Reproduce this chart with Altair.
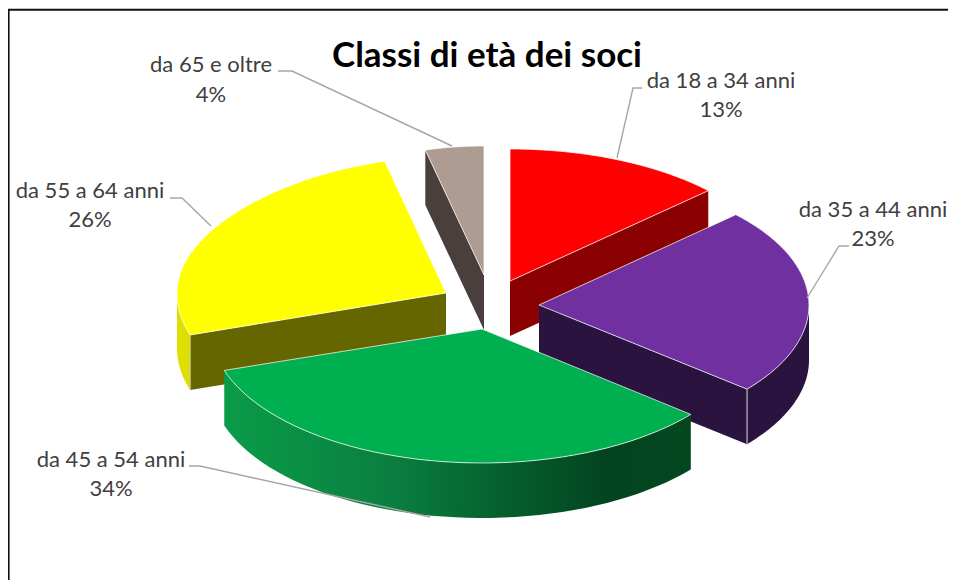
import math
import altair as alt

# ---- data ----
TITLE = "Classi di età dei soci"
categories = ["da 18 a 34 anni", "da 35 a 44 anni", "da 45 a 54 anni", "da 55 a 64 anni", "da 65 e oltre"]
shares = [13, 23, 34, 26, 4]

# ---- pie construction (each slice: exploded apex, ellipse radii, back taper) ----
APEX = [(510, 281), (539, 305), (482, 329), (446, 293), (484, 275)]
RADII = [(272, 132), (270, 132), (271, 134), (269, 136), (236, 129)]
TAPER = [0, 0, 0, 0.09, 0]
DEPTH = 55
W, H = 940, 572


def angles():
    out, a = [], 0.0
    for s in shares:
        out.append((a, a + s * 3.6))
        a += s * 3.6
    return out


def pt(i, deg):
    cx, cy = APEX[i]
    rx, ry = RADII[i]
    t = math.radians(deg)
    c = math.cos(t)
    f = 1 - TAPER[i] * max(0.0, c) ** 2
    return (cx + rx * math.sin(t) * f, cy - ry * c)


def arc(i, a, b, n=48):
    return [pt(i, a + (b - a) * k / n) for k in range(n + 1)]


def down(p):
    return (p[0], p[1] + DEPTH)


def poly(points, key):
    ring = [list(p) for p in points]
    ring.append(ring[0])
    return {"type": "Feature", "properties": {"part": key},
            "geometry": {"type": "Polygon", "coordinates": [ring]}}


def line(points, key="edge"):
    return {"type": "Feature", "properties": {"part": key},
            "geometry": {"type": "LineString", "coordinates": [list(p) for p in points]}}


def wall(i, a, b, key):
    top = arc(i, a, b)
    return poly(top + [down(p) for p in reversed(top)], key)


def cut(i, deg, key):
    p, q = APEX[i], pt(i, deg)
    return poly([p, q, down(q), down(p)], key)


def top(i, key):
    a, b = angles()[i]
    return poly([APEX[i]] + arc(i, a, b), key)


PROJ = alt.Projection(type="identity", scale=1, translate=[-8, -8])
parts = ["red", "redcut", "purple", "purplecut", "purplewall", "green", "yellow", "yellowcut",
         "yellowwall", "grey", "greycut"]
part_colors = ["#FF0000", "#8B0000", "#7030A0", "#2B1340", "#2B1340", "#00B050", "#FFFF00", "#666600",
               "#DEDE00", "#AE9C92", "#4A3F3C"]


def shapes(features, stroke=None):
    kw = {"stroke": stroke, "strokeWidth": 0.9, "strokeOpacity": 0.8} if stroke else {}
    return alt.Chart(alt.Data(values=features)).mark_geoshape(**kw).encode(
        color=alt.Color("properties.part:N", scale=alt.Scale(domain=parts, range=part_colors), legend=None)
    ).project(**PROJ.to_dict())


def strokes(features, color, width):
    return alt.Chart(alt.Data(values=features)).mark_geoshape(
        filled=False, stroke=color, strokeWidth=width
    ).project(**PROJ.to_dict())


A = angles()
green_gradient = alt.Gradient(
    gradient="linear", x1=0, x2=1, y1=0, y2=0,
    stops=[
        alt.GradientStop(offset=0.0, color="#0A9C49"),
        alt.GradientStop(offset=0.35, color="#0A8040"),
        alt.GradientStop(offset=0.6, color="#065F2D"),
        alt.GradientStop(offset=0.82, color="#03441F"),
        alt.GradientStop(offset=1.0, color="#03471F"),
    ],
)

layers = [
    # grey slice
    shapes([cut(4, A[4][0], "greycut")]),
    shapes([top(4, "grey")], stroke="#FFFFFF"),
    # red slice
    shapes([cut(0, A[0][1], "redcut")]),
    shapes([top(0, "red")], stroke="#FFFFFF"),
    # yellow slice
    shapes([wall(3, A[3][0], 270, "yellowwall"), cut(3, A[3][0], "yellowcut")]),
    strokes([line([pt(3, A[3][0]), down(pt(3, A[3][0]))])], "#C8C8A0", 1),
    shapes([top(3, "yellow")], stroke="#FFFFFF"),
    # purple slice
    shapes([wall(1, 90, A[1][1], "purplewall"), cut(1, A[1][1], "purplecut")]),
    strokes([line([pt(1, A[1][1]), down(pt(1, A[1][1]))])], "#A8A0B0", 1.4),
    shapes([top(1, "purple")], stroke="#FFFFFF"),
    # green slice
    alt.Chart(alt.Data(values=[wall(2, A[2][0], A[2][1], "greenwall")])).mark_geoshape(
        fill=green_gradient, stroke=None
    ).project(**PROJ.to_dict()),
    shapes([top(2, "green")], stroke="#FFFFFF"),
    # leader lines
    strokes(
        [
            line([(642, 88), (633, 88), (617, 158)]),
            line([(849, 246), (839, 246), (807, 298)]),
            line([(189, 466), (200, 466), (430, 517)]),
            line([(170, 198), (182, 198), (211, 226)]),
            line([(278, 71), (292, 71), (452, 146)]),
        ],
        "#A6A6A6", 1.4,
    ),
    # frame
    strokes([line([(8.6, 580), (8.6, 9.7), (956, 9.7)])], "#111111", 2),
]

LABEL_POS = [(721, 81, 110), (873, 210, 239), (111, 460, 489), (90, 191, 220), (211, 65, 95)]


def text(value, x, y, **style):
    return alt.Chart(alt.Data(values=[{"t": value}])).mark_text(
        font="Lato", baseline="middle", align="center", **style
    ).encode(text="t:N", x=alt.value(x - 8), y=alt.value(y - 8))


for name, share, (lx, y1, y2) in zip(categories, shares, LABEL_POS):
    layers.append(text(name, lx, y1, fontSize=22, color="#404040"))
    layers.append(text(f"{share}%", lx, y2, fontSize=22, color="#404040"))
layers.append(text(TITLE, 487, 56, fontSize=35, fontWeight="bold", color="#000000"))

chart = alt.layer(*layers).properties(
    width=W, height=H, padding=0, autosize=alt.AutoSizeParams(type="none"), background="white"
).configure_view(stroke=None)

chart.save("out.html", embed_options={"renderer": "svg", "actions": False})
